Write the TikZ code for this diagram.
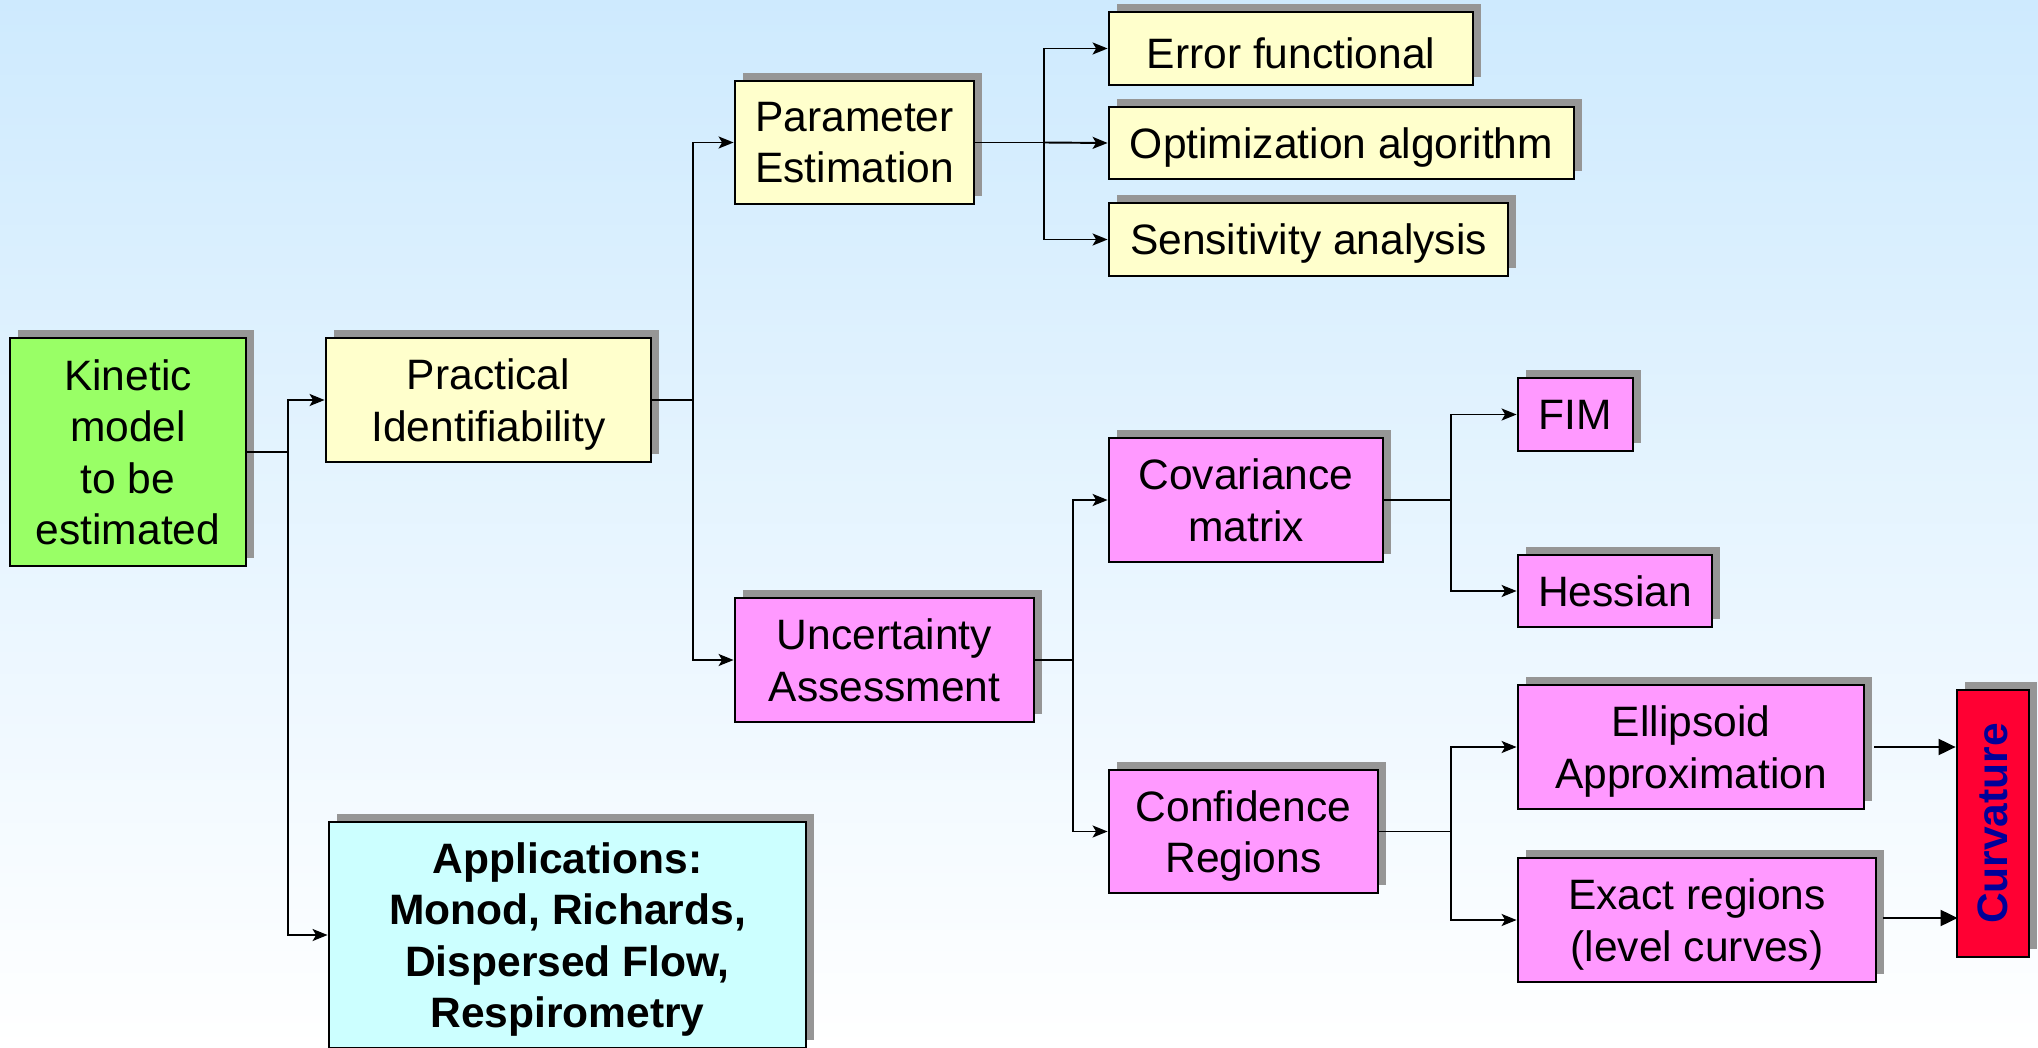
\documentclass[tikz,border=0pt]{standalone}
\usepackage{fontspec}
\setmainfont{Liberation Sans}
\usetikzlibrary{arrows.meta}
\usetikzlibrary{shadows}

\definecolor{bgblue}{HTML}{CEEAFE}
\definecolor{kingreen}{HTML}{99FF66}
\definecolor{paleyellow}{HTML}{FFFFCC}
\definecolor{boxpink}{HTML}{FF99FF}
\definecolor{palecyan}{HTML}{CCFFFF}
\definecolor{curvred}{HTML}{FF0033}
\definecolor{curvblue}{HTML}{000099}
\definecolor{shadowgray}{HTML}{969696}

\newcommand\pptstrut{\rule{0pt}{11.3pt}}

\tikzset{
  box/.style={draw=black, line width=0.8pt, inner sep=0pt, align=center,
    font=\fontsize{12.1}{14.6}\selectfont,
    general shadow={fill=shadowgray, shadow xshift=0.08cm, shadow yshift=0.08cm}},
  single/.style={box, execute at begin node=\pptstrut},
  lines/.style={box, text depth=-0.74pt},
  link/.style={line width=0.55pt},
  tip/.style={link, -{Stealth[length=0.15cm,width=0.12cm,inset=0.035cm]}},
  bigtip/.style={link, -{Triangle[length=0.17cm,width=0.16cm]}}
}

\begin{document}
\begin{tikzpicture}
\shade[top color=bgblue, bottom color=white] (0,0) rectangle (20.38,10.47);
\useasboundingbox (0,0) rectangle (20.38,10.47);

\node[lines, fill=kingreen, minimum width=2.36cm, minimum height=2.28cm] (kin) at (1.28,5.95) {Kinetic\\model\\to be\\estimated};
\node[lines, fill=paleyellow, minimum width=3.25cm, minimum height=1.24cm] (prac) at (4.885,6.47) {Practical\\Identifiability};
\node[lines, fill=palecyan, minimum width=4.77cm, minimum height=2.26cm, font=\fontsize{12.1}{14.6}\selectfont\bfseries] (apps) at (5.675,1.12) {Applications:\\Monod, Richards,\\Dispersed Flow,\\Respirometry};

\node[lines, fill=paleyellow, minimum width=2.39cm, minimum height=1.23cm] (par) at (8.545,9.045) {Parameter\\Estimation};
\node[lines, fill=boxpink, minimum width=2.99cm, minimum height=1.24cm] (unc) at (8.845,3.87) {Uncertainty\\Assessment};

\node[single, fill=paleyellow, minimum width=3.64cm, minimum height=0.73cm] (err) at (12.91,9.985) {Error functional};
\node[single, fill=paleyellow, minimum width=4.65cm, minimum height=0.72cm] (opt) at (13.415,9.04) {Optimization algorithm};
\node[single, fill=paleyellow, minimum width=3.99cm, minimum height=0.73cm] (sens) at (13.085,8.075) {Sensitivity analysis};

\node[lines, fill=boxpink, minimum width=2.74cm, minimum height=1.24cm] (cov) at (12.46,5.47) {Covariance\\matrix};
\node[lines, fill=boxpink, minimum width=2.69cm, minimum height=1.23cm] (conf) at (12.435,2.155) {Confidence\\Regions};

\node[box, fill=boxpink, minimum width=1.15cm, minimum height=0.73cm] (fim) at (15.755,6.325) {FIM};
\node[box, fill=boxpink, minimum width=1.94cm, minimum height=0.72cm] (hes) at (16.15,4.56) {Hessian};
\node[lines, fill=boxpink, minimum width=3.46cm, minimum height=1.24cm] (ell) at (16.91,3.0) {Ellipsoid\\Approximation};
\node[lines, fill=boxpink, minimum width=3.58cm, minimum height=1.24cm] (exa) at (16.97,1.27) {Exact regions\\(level curves)};

\node[box, fill=curvred, minimum width=0.72cm, minimum height=2.67cm, text=curvblue] (curv) at (19.93,2.235) {\rotatebox{90}{\bfseries Curvature}};

\draw[tip] (kin.east) -- ++(0.41,0) coordinate (kj) |- (prac.west);
\draw[tip] (kj) |- (apps.west);

\draw[tip] (prac.east) -- ++(0.41,0) coordinate (pj) |- (par.west);
\draw[tip] (pj) |- (unc.west);

\draw[link] (par.east) -- ++(0.69,0) coordinate (ej);
\draw[tip] (ej) |- (err.west);
\draw[tip] (ej) -- (opt.west);
\draw[tip] (ej) |- (sens.west);

\draw[link] (unc.east) -- ++(0.38,0) coordinate (uj);
\draw[tip] (uj) |- (cov.west);
\draw[tip] (uj) |- (conf.west);

\draw[link] (cov.east) -- ++(0.67,0) coordinate (cj);
\draw[tip] (cj) |- (fim.west);
\draw[tip] (cj) |- (hes.west);

\draw[link] (conf.east) -- ++(0.72,0) coordinate (rj);
\draw[tip] (rj) |- (ell.west);
\draw[tip] (rj) |- (exa.west);

\draw[bigtip] ([xshift=0.09cm]ell.east) -- (ell.east -| curv.west);
\draw[bigtip] ([xshift=0.06cm,yshift=0.02cm]exa.east) -- ([xshift=0.02cm,yshift=0.02cm]exa.east -| curv.west);

\end{tikzpicture}
\end{document}
